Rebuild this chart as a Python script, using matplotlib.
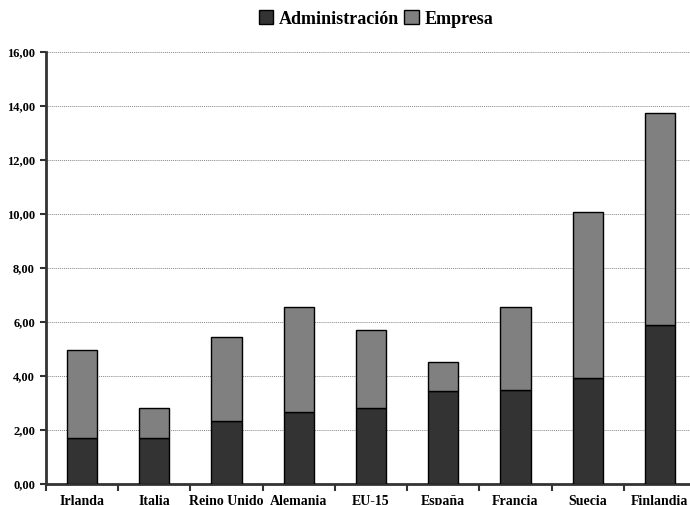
import matplotlib
matplotlib.use("Agg")
import matplotlib.pyplot as plt
import numpy as np
from matplotlib.patches import Patch

categories = ["Irlanda", "Italia", "Reino Unido", "Alemania", "EU-15", "España", "Francia", "Suecia", "Finlandia"]
administracion = [1.70, 1.70, 2.33, 2.67, 2.81, 3.44, 3.48, 3.93, 5.89]
total = [4.98, 2.82, 5.46, 6.56, 5.70, 4.52, 6.56, 10.07, 13.74]
empresa = [t - a for t, a in zip(total, administracion)]
yticks = [0, 2, 4, 6, 8, 10, 12, 14, 16]

plt.rcParams['font.family'] = ['Liberation Serif', 'DejaVu Serif']
plt.rcParams['font.weight'] = 'bold'

fig = plt.figure(figsize=(6.9, 5.05), dpi=100)
ax = fig.add_axes([46/690, 21/505, 650/690, 432/505])

x = np.arange(len(categories))
w = 0.42
ax.bar(x, administracion, w, color="#333333", edgecolor="black", linewidth=1.0, zorder=3)
ax.bar(x, empresa, w, bottom=administracion, color="#808080", edgecolor="black", linewidth=1.0, zorder=3)

ax.set_xlim(-0.5, len(categories) - 0.5)
ax.set_ylim(0, 16)
ax.set_yticks(yticks)
ax.set_yticklabels([f"{v:.2f}".replace(".", ",") for v in yticks], fontsize=9, fontweight='bold')
ax.set_xticks(x)
ax.set_xticklabels(categories, fontsize=10, fontweight='bold')
ax.set_xticks(np.arange(len(categories) + 1) - 0.5, minor=True)
ax.tick_params(axis='x', which='major', length=0, pad=8)
ax.tick_params(axis='x', which='minor', length=5, width=1.5, direction='out', color='#333333')
ax.tick_params(axis='y', length=4, width=1.5, direction='out', color='#333333', pad=4)

ax.yaxis.grid(True, linestyle=(0, (1, 1)), color='#888888', linewidth=0.7, zorder=0)
for s in ['top', 'right']:
    ax.spines[s].set_visible(False)
for s in ['left', 'bottom']:
    ax.spines[s].set_linewidth(2)
    ax.spines[s].set_color('#333333')

handles = [Patch(facecolor="#333333", edgecolor="black", label="Administración"),
           Patch(facecolor="#808080", edgecolor="black", label="Empresa")]
fig.legend(handles=handles, loc='center', bbox_to_anchor=(376/690, 1 - 19/505), ncol=2,
           frameon=False, prop={'size': 13, 'weight': 'bold'}, handlelength=0.8, handleheight=0.8,
           handletextpad=0.3, columnspacing=0.3)

fig.savefig("out.png", dpi=100)
